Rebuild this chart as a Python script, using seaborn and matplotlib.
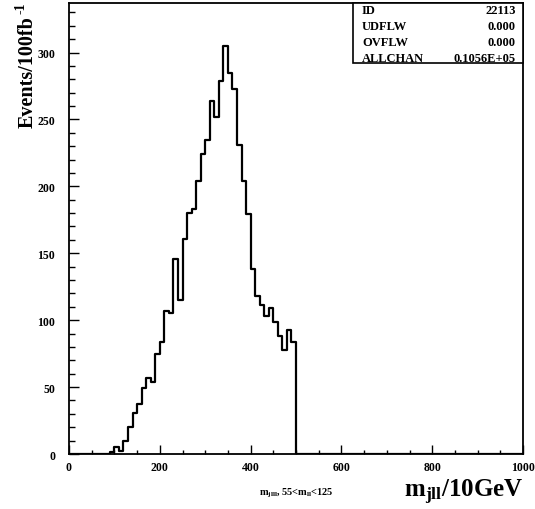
import numpy as np
import pandas as pd
import matplotlib
matplotlib.use("Agg")
import matplotlib.pyplot as plt
import seaborn as sns
from matplotlib.patches import Rectangle

# ---- data ----
bin_edges_start = 0
bin_width = 10
n_bins = 100
counts_first_50 = [0, 0, 0, 0, 0, 0, 0, 0, 0, 1.3,
                   5, 2, 10, 20, 31, 37, 49, 57, 54, 75,
                   84, 107, 105, 146, 115, 161, 180, 183, 204, 224,
                   235, 264, 252, 279, 305, 285, 273, 231, 204, 179,
                   138, 118, 111, 103, 109, 98.5, 88.5, 78, 93, 84]
stats_labels = ["ID", "UDFLW", "OVFLW", "ALLCHAN"]
stats_values = ["22113", "0.000", "0.000", "0.1056E+05"]
x_ticks = [0, 200, 400, 600, 800, 1000]
y_ticks = [0, 50, 100, 150, 200, 250, 300]

counts = np.array(counts_first_50 + [0] * (n_bins - len(counts_first_50)), dtype=float)
edges = bin_edges_start + bin_width * np.arange(n_bins + 1)
centers = (edges[:-1] + edges[1:]) / 2
df = pd.DataFrame({"x": centers, "w": counts})

sns.set_style("ticks")
plt.rcParams["font.family"] = ["Liberation Serif", "DejaVu Serif"]
plt.rcParams["font.weight"] = "bold"
plt.rcParams["text.color"] = "black"
plt.rcParams["axes.labelcolor"] = "black"
plt.rcParams["xtick.color"] = "black"
plt.rcParams["ytick.color"] = "black"
plt.rcParams["mathtext.fontset"] = "custom"
plt.rcParams["mathtext.rm"] = "Liberation Serif:bold"
plt.rcParams["mathtext.bf"] = "Liberation Serif:bold"
plt.rcParams["mathtext.it"] = "Liberation Serif:bold"

fig = plt.figure(figsize=(5.35, 5.10), dpi=100)
W, H = 535, 510
ax_l, ax_r, ax_t, ax_b = 69, 523, 4, 455
ax = fig.add_axes([ax_l / W, 1 - ax_b / H, (ax_r - ax_l) / W, (ax_b - ax_t) / H])

sns.histplot(data=df, x="x", weights="w", bins=list(edges), element="step", fill=False,
             color="black", linewidth=1.6, ax=ax)

ax.set_xlim(0, 1000)
ax.set_ylim(0, 337)
ax.set_xlabel("")
ax.set_ylabel("")
ax.set_xticks(x_ticks)
ax.set_xticks(np.arange(0, 1001, 50), minor=True)
ax.set_yticks(y_ticks)
ax.set_yticks(np.arange(0, 337, 10), minor=True)
ax.set_xticklabels([str(v) for v in x_ticks], fontsize=8.5, fontweight="bold", color="black")
ax.set_yticklabels([str(v) for v in y_ticks], fontsize=8.5, fontweight="bold", color="black")
ax.tick_params(axis="both", which="both", direction="in", width=1.0, color="black")
ax.tick_params(axis="y", which="major", length=7, pad=10)
ax.tick_params(axis="y", which="minor", length=4)
ax.tick_params(axis="x", which="major", length=6.5, pad=5)
ax.tick_params(axis="x", which="minor", length=3.2)
for s in ax.spines.values():
    s.set_linewidth(1.3)
    s.set_color("black")
    s.set_visible(True)

# stats box
bx0, bx1, by0, by1 = 353, 523, 4, 64
fig.patches.append(Rectangle((bx0 / W, 1 - by1 / H), (bx1 - bx0) / W, (by1 - by0) / H,
                             transform=fig.transFigure, facecolor="white",
                             edgecolor="black", linewidth=1.2, zorder=5))
row_y = [11.5, 27.5, 43.5, 59.0]
for lab, val, yy in zip(stats_labels, stats_values, row_y):
    fig.text(362 / W, 1 - yy / H, lab, ha="left", va="center", fontsize=9,
             fontweight="bold", zorder=6)
    fig.text(516 / W, 1 - yy / H, val, ha="right", va="center", fontsize=9,
             fontweight="bold", zorder=6)

# axis titles
fig.text(28 / W, 1 - 16 / H, "Events/100fb", rotation=90, ha="center",
         va="top", fontsize=14.5, fontweight="bold")
fig.text(21 / W, 1 - 3 / H, "-1", rotation=90, ha="center",
         va="top", fontsize=10, fontweight="bold")
fig.text(523 / W, 1 - 497 / H, r"m$_{\mathbf{jll}}$/10GeV", ha="right", va="baseline",
         fontsize=18, fontweight="bold")
fig.text(296 / W, 1 - 496 / H, r"m$_{\mathbf{jlll}}$, 55<m$_{\mathbf{ll}}$<125", ha="center",
         va="baseline", fontsize=7.5, fontweight="bold")

fig.savefig("out.png", dpi=100, facecolor="white")
